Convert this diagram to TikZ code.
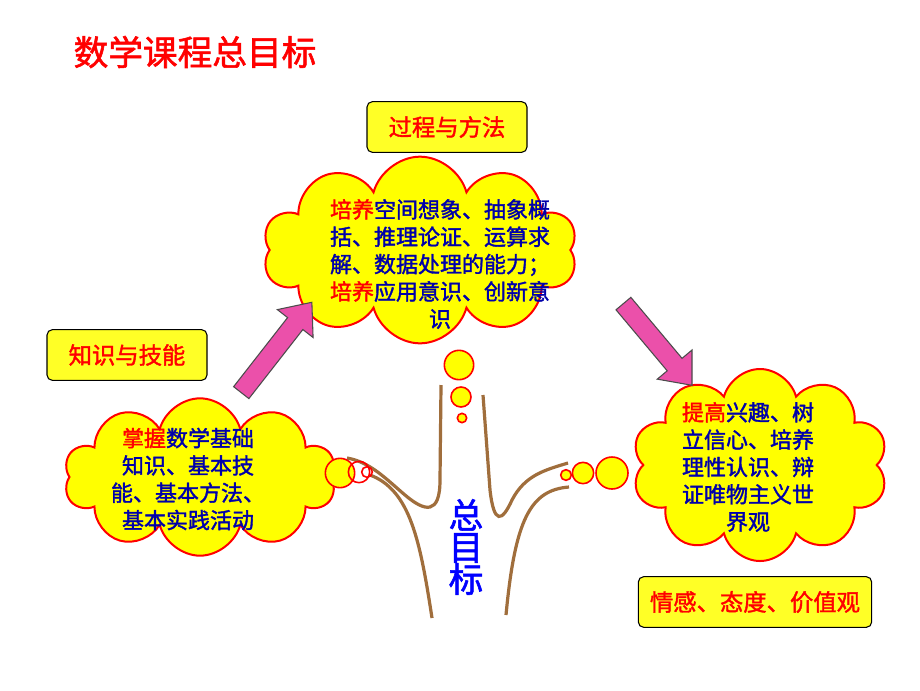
\documentclass[tikz,border=0pt]{standalone}
\usepackage{fontspec}
\setmainfont{Noto Sans CJK SC}[AutoFakeBold=1.6]
\usetikzlibrary{shapes.symbols,shapes.arrows}
\definecolor{CLOUDYELLOW}{RGB}{255, 255, 0}
\definecolor{CLOUDRED}{RGB}{255, 0, 0}
\definecolor{TEXTBLUE}{RGB}{0, 0, 170}
\definecolor{TRUNK}{RGB}{160, 110, 60}
\definecolor{ARROWPINK}{RGB}{235, 80, 170}
\tikzset{
  bubble/.style={cloud, cloud puffs=10, cloud ignores aspect, draw=CLOUDRED, line width=1.5pt, fill=CLOUDYELLOW},
  dot/.style={circle, draw=CLOUDRED, line width=1.2pt, fill=CLOUDYELLOW, inner sep=0pt},
  labelbox/.style={draw=black, line width=0.8pt, rounded corners=4pt, fill=CLOUDYELLOW!85!white, minimum height=38pt, font=\bfseries\fontsize{17.5}{20}\selectfont, text=CLOUDRED},
  cloudtext/.style={align=center, font=\bfseries\fontsize{16.5}{20.5}\selectfont, text=TEXTBLUE},
  trunk/.style={draw=TRUNK, line width=2.4pt},
  fatarrow/.style={single arrow, draw=black!70, fill=ARROWPINK, line width=0.8pt, minimum width=34pt, single arrow head extend=5pt, single arrow tip angle=80}
}
\begin{document}
\begin{tikzpicture}[x=0.75pt, y=-0.75pt]
\useasboundingbox (0,0) rectangle (920,690);
\fill[white] (0,0) rectangle (920,690);
% title
\node[font=\bfseries\fontsize{26}{30}\selectfont, text=CLOUDRED] (title) at (195,52) {数学课程总目标};
% trunk
\draw[trunk] (441,385) -- (440,480) .. controls (440,515) and (425,512) .. (405,495) .. controls (385,478) and (370,462) .. (347,458);
\draw[trunk] (370,475) .. controls (410,490) and (420,540) .. (432,618);
\draw[trunk] (483,395) -- (490,490) .. controls (494,525) and (502,522) .. (512,500) .. controls (525,475) and (545,470) .. (568,463);
\draw[trunk] (569,487) .. controls (530,490) and (515,520) .. (506,615);
% clouds
\node[bubble, minimum width=236pt, minimum height=140pt] (process) at (420,250) {};
\node[bubble, minimum width=204pt, minimum height=118pt] (knowledge) at (200,477) {};
\node[bubble, minimum width=192pt, minimum height=144pt] (emotion) at (760,465) {};
% small bubbles
\node[dot, minimum size=22pt] (up1) at (459,365) {};
\node[dot, minimum size=15pt] (up2) at (461,397) {};
\node[dot, minimum size=7pt] (up3) at (462,418) {};
\node[dot, minimum size=22pt] (lf1) at (340,473) {};
\node[dot, minimum size=16pt, fill=none] (lf2) at (359,472) {};
\node[dot, minimum size=8pt, fill=none] (lf3) at (367,472) {};
\node[dot, minimum size=24pt] (rt1) at (612,473) {};
\node[dot, minimum size=16pt] (rt2) at (583,473) {};
\node[dot, minimum size=8pt] (rt3) at (566,475) {};
% cloud texts
\node[cloudtext] (processtext) at (440,264) {\textcolor{CLOUDRED}{培养}空间想象、抽象概\\括、推理论证、运算求\\解、数据处理的能力；\\\textcolor{CLOUDRED}{培养}应用意识、创新意\\识};
\node[cloudtext] (knowledgetext) at (188,479) {\textcolor{CLOUDRED}{掌握}数学基础\\知识、基本技\\能、基本方法、\\基本实践活动};
\node[cloudtext] (emotiontext) at (748,467) {\textcolor{CLOUDRED}{提高}兴趣、树\\立信心、培养\\理性认识、辩\\证唯物主义世\\界观};
\node[text=blue, align=center, font=\bfseries\fontsize{26}{26}\selectfont] (goal) at (466,547) {总\\[-2pt]目\\[-2pt]标};
% label boxes
\node[labelbox, minimum width=120pt] (processbox) at (447,127) {过程与方法};
\node[labelbox, minimum width=120pt] (skillbox) at (127,355) {知识与技能};
\node[labelbox, minimum width=175pt] (valuebox) at (755,602) {情感、态度、价值观};
% fat arrows
\node[fatarrow, minimum height=86pt, rotate=52] (leftarrow) at (273,352) {};
\node[fatarrow, minimum height=80pt, rotate=-50] (rightarrow) at (654,340) {};
\end{tikzpicture}
\end{document}
